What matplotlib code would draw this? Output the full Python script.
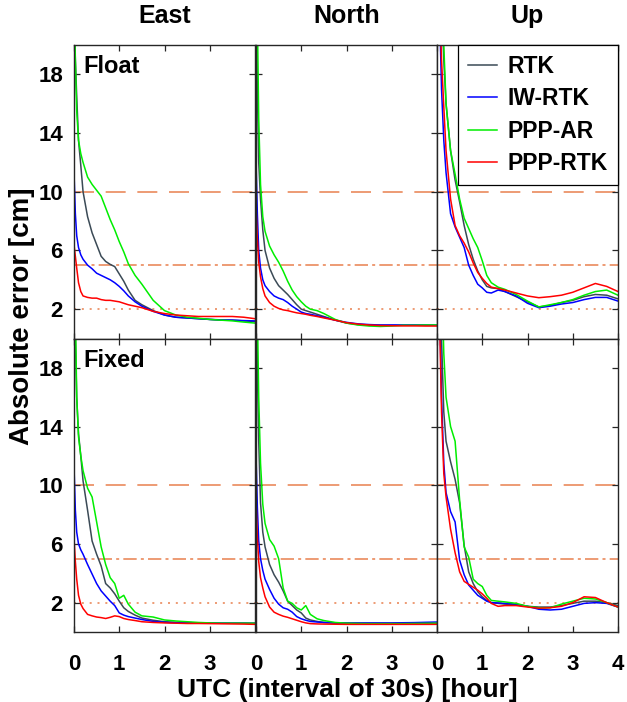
import matplotlib
matplotlib.use("Agg")
import matplotlib.pyplot as plt

plt.rcParams["font.family"] = ["Liberation Sans", "DejaVu Sans"]
plt.rcParams["font.weight"] = "bold"

### Data (hours, cm) ###
hours = [0, 0.03, 0.06, 0.1, 0.15, 0.2, 0.3, 0.4, 0.5, 0.6, 0.7, 0.8, 0.9, 1.0,
         1.1, 1.2, 1.35, 1.5, 1.75, 2.0, 2.25, 2.5, 2.75, 3.0, 3.25, 3.5, 3.75, 4.0]

series_names = ["RTK", "IW-RTK", "PPP-AR", "PPP-RTK"]
col_titles = ["East", "North", "Up"]
row_labels = ["Float", "Fixed"]
y_ticks = [2, 6, 10, 14, 18]
ref_levels = [10, 5, 2]

# Float solutions
east_float_rtk = [22, 19, 16.5, 13.5, 11.8, 10.0, 8.3, 7.2, 6.4, 5.6, 5.25, 5.05, 4.9, 4.4,
                  3.9, 3.3, 2.6, 2.3, 1.9, 1.6, 1.45, 1.4, 1.35, 1.3, 1.25, 1.25, 1.2, 1.15]
east_float_iw = [11.3, 8.5, 7.0, 6.2, 5.7, 5.4, 5.0, 4.75, 4.45, 4.3, 4.15, 4.0, 3.8, 3.55,
                 3.25, 2.9, 2.5, 2.2, 1.85, 1.6, 1.45, 1.4, 1.35, 1.3, 1.27, 1.25, 1.22, 1.2]
east_float_ar = [25, 19, 15.5, 13.5, 12.6, 12.0, 11.0, 10.5, 10.1, 9.7, 8.9, 8.1, 7.4, 6.6,
                 5.9, 5.1, 4.3, 3.7, 2.6, 1.9, 1.6, 1.45, 1.38, 1.3, 1.25, 1.2, 1.12, 1.05]
east_float_pr = [6.4, 5.6, 4.8, 3.8, 3.2, 2.9, 2.8, 2.75, 2.75, 2.65, 2.6, 2.6, 2.55, 2.5,
                 2.4, 2.3, 2.2, 2.1, 1.85, 1.7, 1.6, 1.55, 1.5, 1.5, 1.5, 1.5, 1.45, 1.35]

north_float_rtk = [22, 17, 12, 9.5, 7.4, 6.0, 4.8, 4.1, 3.6, 3.3, 3.0, 2.65, 2.3, 2.0,
                   1.9, 1.8, 1.65, 1.5, 1.25, 1.05, 0.95, 0.9, 0.9, 0.9, 0.9, 0.9, 0.9, 0.9]
north_float_iw = [12.1, 8.5, 6.0, 4.8, 4.0, 3.6, 3.2, 2.9, 2.75, 2.65, 2.45, 2.2, 2.0, 1.8,
                  1.7, 1.65, 1.55, 1.45, 1.25, 1.1, 1.0, 0.95, 0.92, 0.92, 0.92, 0.92, 0.92, 0.9]
north_float_ar = [25, 22, 15, 10.5, 8.3, 7.3, 6.3, 5.7, 5.2, 4.6, 3.9, 3.3, 2.85, 2.5,
                  2.2, 2.0, 1.9, 1.7, 1.3, 1.05, 0.92, 0.85, 0.82, 0.85, 0.9, 0.9, 0.92, 0.92]
north_float_pr = [9.0, 6.8, 5.2, 4.2, 3.4, 2.9, 2.45, 2.2, 2.05, 1.95, 1.9, 1.82, 1.75, 1.7,
                  1.65, 1.58, 1.5, 1.4, 1.25, 1.08, 0.98, 0.92, 0.88, 0.87, 0.86, 0.86, 0.85, 0.85]

up_float_rtk = [32, 30, 27, 23, 19, 16.0, 12.8, 10.8, 9.3, 7.7, 6.4, 5.4, 4.6, 4.0,
                3.55, 3.45, 3.4, 3.2, 2.85, 2.5, 2.15, 2.25, 2.45, 2.6, 2.85, 3.0, 2.95, 2.7]
up_float_iw = [30, 27, 22, 17, 13.5, 11.3, 8.5, 7.6, 6.9, 6.2, 5.0, 4.3, 3.7, 3.45,
               3.15, 3.1, 3.3, 3.2, 2.9, 2.4, 2.1, 2.2, 2.35, 2.45, 2.65, 2.8, 2.8, 2.55]
up_float_ar = [30, 30, 28, 24, 20, 16.0, 12.8, 11.2, 9.5, 8.2, 7.5, 6.8, 6.2, 5.3,
               4.3, 3.8, 3.5, 3.35, 3.0, 2.55, 2.15, 2.3, 2.45, 2.65, 2.95, 3.2, 3.3, 2.95]
up_float_pr = [32, 27, 23, 19, 15.8, 12.8, 9.5, 7.7, 7.0, 6.5, 5.9, 5.15, 4.5, 4.1,
               3.75, 3.5, 3.4, 3.3, 3.1, 2.9, 2.78, 2.85, 2.95, 3.15, 3.45, 3.75, 3.55, 3.2]

# Fixed solutions
east_fixed_rtk = [25, 20, 16, 13.5, 12.0, 10.3, 8.3, 6.2, 5.3, 4.5, 3.3, 3.0, 2.6, 2.1,
                  1.65, 1.4, 1.15, 0.95, 0.8, 0.7, 0.66, 0.64, 0.62, 0.6, 0.6, 0.6, 0.6, 0.58]
east_fixed_iw = [11.3, 8.3, 6.8, 6.0, 5.6, 5.3, 4.6, 3.95, 3.3, 2.8, 2.45, 2.1, 1.8, 1.3,
                 1.15, 1.05, 0.95, 0.85, 0.72, 0.66, 0.63, 0.62, 0.62, 0.62, 0.6, 0.6, 0.6, 0.6]
east_fixed_ar = [30, 22, 16, 13.3, 12.0, 11.0, 9.8, 9.2, 7.5, 5.8, 4.6, 3.7, 3.3, 2.3,
                 2.5, 1.9, 1.35, 1.1, 1.02, 0.82, 0.75, 0.7, 0.65, 0.62, 0.6, 0.6, 0.6, 0.6]
east_fixed_pr = [6.4, 4.8, 3.6, 2.5, 1.9, 1.6, 1.2, 1.1, 1.02, 0.98, 0.92, 1.0, 1.1, 1.05,
                 0.92, 0.85, 0.78, 0.7, 0.65, 0.62, 0.6, 0.58, 0.58, 0.57, 0.56, 0.55, 0.54, 0.52]

north_fixed_rtk = [25, 18, 13, 8.8, 6.8, 5.8, 4.6, 3.9, 3.4, 2.8, 2.1, 1.8, 1.5, 1.3,
                   0.95, 0.82, 0.72, 0.65, 0.6, 0.58, 0.58, 0.58, 0.58, 0.58, 0.58, 0.58, 0.58, 0.58]
north_fixed_iw = [12.1, 8.5, 6.2, 5.0, 4.2, 3.6, 2.9, 2.3, 1.9, 1.65, 1.55, 1.35, 1.05, 0.9,
                  0.8, 0.72, 0.68, 0.65, 0.63, 0.62, 0.62, 0.62, 0.62, 0.62, 0.63, 0.64, 0.66, 0.68]
north_fixed_ar = [30, 22, 16, 11.5, 8.7, 7.4, 6.3, 5.85, 5.0, 3.0, 2.1, 1.95, 1.65, 1.5,
                  1.8, 1.2, 0.9, 0.78, 0.65, 0.6, 0.58, 0.57, 0.57, 0.57, 0.57, 0.58, 0.59, 0.6]
north_fixed_pr = [9.0, 6.5, 4.8, 3.7, 3.0, 2.4, 1.7, 1.35, 1.2, 1.08, 1.0, 0.9, 0.8, 0.7,
                  0.62, 0.57, 0.55, 0.54, 0.53, 0.52, 0.52, 0.52, 0.52, 0.52, 0.52, 0.52, 0.52, 0.52]

up_fixed_rtk = [35, 30, 25, 20, 15, 13.0, 11.6, 10.4, 8.8, 5.9, 4.1, 3.3, 2.75, 2.4,
                2.15, 2.0, 1.95, 1.9, 1.85, 1.75, 1.7, 1.7, 1.8, 1.95, 2.1, 2.1, 2.0, 1.8]
up_fixed_iw = [32, 28, 22, 16, 11.5, 9.5, 8.2, 7.5, 4.9, 3.9, 3.2, 2.85, 2.5, 2.3,
               2.1, 2.0, 1.98, 1.95, 1.9, 1.75, 1.55, 1.5, 1.55, 1.75, 1.95, 2.0, 1.95, 1.7]
up_fixed_ar = [35, 33, 30, 25, 19, 16, 14.0, 13.0, 9.0, 5.8, 5.1, 3.6, 3.3, 3.1,
               2.5, 2.15, 2.1, 2.05, 1.95, 1.75, 1.65, 1.65, 1.9, 2.1, 2.3, 2.25, 2.0, 1.7]
up_fixed_pr = [32, 27, 21, 15, 10.8, 9.2, 7.0, 5.4, 4.1, 3.45, 3.25, 3.05, 2.85, 2.6,
               2.3, 1.95, 1.75, 1.8, 1.8, 1.7, 1.62, 1.65, 1.75, 2.0, 2.4, 2.35, 2.0, 1.7]

panels = [
    [[east_float_rtk, east_float_iw, east_float_ar, east_float_pr],
     [north_float_rtk, north_float_iw, north_float_ar, north_float_pr],
     [up_float_rtk, up_float_iw, up_float_ar, up_float_pr]],
    [[east_fixed_rtk, east_fixed_iw, east_fixed_ar, east_fixed_pr],
     [north_fixed_rtk, north_fixed_iw, north_fixed_ar, north_fixed_pr],
     [up_fixed_rtk, up_fixed_iw, up_fixed_ar, up_fixed_pr]],
]

colors = ["#3b4a56", "#0000ff", "#00ee00", "#ff0000"]
ref_color = "#ea8a5c"
ref_styles = [(0, (12, 7)), (0, (8, 2.5, 1.8, 2.5)), (0, (1.2, 3.5))]

W, H = 627, 702
fig = plt.figure(figsize=(W / 100, H / 100), dpi=100)

col_left = [74, 256, 437]
col_width = 181
row_top = [45, 338.5]
row_height = 293.5

for r in range(2):
    for c in range(3):
        ax = fig.add_axes([col_left[c] / W, 1 - (row_top[r] + row_height) / H,
                           col_width / W, row_height / H])
        for lvl, ls in zip(ref_levels, ref_styles):
            ax.axhline(lvl, color=ref_color, lw=1.2, linestyle=ls, zorder=1)
        for idx, vals in enumerate(panels[r][c]):
            ax.plot(hours, vals, color=colors[idx], lw=1.1, label=series_names[idx], zorder=2)

        ax.set_xlim(0, 4)
        ax.set_ylim(0, 20)
        ax.set_yticks(y_ticks)
        ax.set_xticks([0, 1, 2, 3, 4] if c == 2 else [0, 1, 2, 3])
        ax.tick_params(direction="in", top=True, right=True, length=4, width=0.9,
                       labelsize=16, color="#262626")
        ax.tick_params(axis="x", pad=16)
        ax.tick_params(axis="y", pad=8)
        if c > 0:
            ax.tick_params(labelleft=False)
        if r == 0:
            ax.tick_params(labelbottom=False)
            ax.set_title(col_titles[c], fontsize=18, fontweight="bold", pad=16)
        for sp in ax.spines.values():
            sp.set_linewidth(1.0)
            sp.set_color("#262626")
        if c == 0:
            ax.text(0.05, 0.965, row_labels[r], transform=ax.transAxes, fontsize=17,
                    fontweight="bold", ha="left", va="top")
        if r == 0 and c == 2:
            leg = ax.legend(loc="upper right", borderaxespad=0, fancybox=False,
                            edgecolor="black", framealpha=1, fontsize=16.5,
                            handlelength=1.25, handletextpad=0.45, labelspacing=0.4,
                            borderpad=0.45)
            leg.get_frame().set_linewidth(0.9)

fig.text(22 / W, 1 - 316 / H, "Absolute error [cm]", rotation=90, fontsize=20,
         fontweight="bold", ha="center", va="center")
fig.text(347 / W, 1 - 697 / H, "UTC (interval of 30s) [hour]", fontsize=19,
         fontweight="bold", ha="center", va="baseline")

fig.savefig("out.png", dpi=100)
